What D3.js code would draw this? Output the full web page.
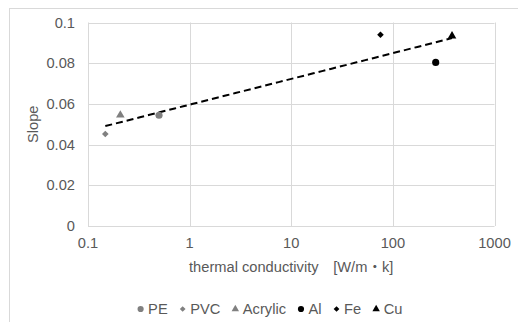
<!DOCTYPE html>
<html>
<head>
<meta charset="utf-8">
<script src="https://cdn.jsdelivr.net/npm/d3@7"></script>
<style>
  html, body { margin: 0; padding: 0; background: #fff; }
  svg text { font-family: "Liberation Sans", Arial, "Noto Sans CJK JP", sans-serif; fill: #595959; }
</style>
</head>
<body>
<svg id="chart" width="518" height="322"></svg>
<script>
// data
const materials = ['PE', 'PVC', 'Acrylic', 'Al', 'Fe', 'Cu'];
const conductivity = [0.5, 0.148, 0.208, 264, 75.5, 382];
const slopes = [0.0544, 0.0452, 0.0545, 0.0804, 0.094, 0.0934];
const markerShapes = ['circle', 'diamond', 'triangle', 'circle', 'diamond', 'triangle'];
const markerColors = ['#808080', '#808080', '#808080', '#000000', '#000000', '#000000'];
const xTicks = [0.1, 1, 10, 100, 1000];
const yTicks = [0, 0.02, 0.04, 0.06, 0.08, 0.1];

const fontSize = '14.67px';
const svg = d3.select('#chart');

// outer chart border (cut off at right and bottom)
svg.append('rect')
  .attr('x', 9.5).attr('y', 8.5)
  .attr('width', 600).attr('height', 400)
  .attr('fill', 'none')
  .attr('stroke', '#d9d9d9')
  .attr('stroke-width', 1);

const x = d3.scaleLog().domain([0.1, 1000]).range([88, 494.5]);
const y = d3.scaleLinear().domain([0, 0.1]).range([226, 22.5]);

// gridlines
svg.append('g')
  .selectAll('line')
  .data(yTicks)
  .enter()
  .append('line')
  .attr('x1', x(0.1)).attr('x2', x(1000))
  .attr('y1', d => Math.round(y(d)) + 0.5).attr('y2', d => Math.round(y(d)) + 0.5)
  .attr('stroke', '#d9d9d9')
  .attr('stroke-width', 1);

svg.append('g')
  .selectAll('line')
  .data(xTicks)
  .enter()
  .append('line')
  .attr('x1', d => Math.round(x(d)) + 0.5).attr('x2', d => Math.round(x(d)) + 0.5)
  .attr('y1', y(0.1)).attr('y2', y(0))
  .attr('stroke', '#d9d9d9')
  .attr('stroke-width', 1);

// tick labels
svg.append('g')
  .selectAll('text')
  .data(yTicks)
  .enter()
  .append('text')
  .attr('x', 75)
  .attr('y', d => y(d))
  .attr('dy', '0.35em')
  .attr('text-anchor', 'end')
  .attr('font-size', fontSize)
  .text(d => d === 0 ? '0' : String(d));

svg.append('g')
  .selectAll('text')
  .data(xTicks)
  .enter()
  .append('text')
  .attr('x', d => x(d))
  .attr('y', 248)
  .attr('text-anchor', 'middle')
  .attr('font-size', fontSize)
  .text(d => String(d));

// axis titles
svg.append('text')
  .attr('x', (x(0.1) + x(1000)) / 2)
  .attr('y', 272)
  .attr('text-anchor', 'middle')
  .attr('font-size', fontSize)
  .text('thermal conductivity\u3000[W/m\u30FBk]');

svg.append('text')
  .attr('transform', `translate(38, ${(y(0) + y(0.1)) / 2}) rotate(-90)`)
  .attr('text-anchor', 'middle')
  .attr('font-size', fontSize)
  .text('Slope');

// logarithmic trendline (least squares on ln x), like the spreadsheet one
const lx = conductivity.map(v => Math.log(v));
const mx = d3.mean(lx), my = d3.mean(slopes);
const a = d3.sum(lx, (v, i) => (v - mx) * (slopes[i] - my)) / d3.sum(lx, v => (v - mx) * (v - mx));
const b = my - a * mx;
const xMin = d3.min(conductivity), xMax = d3.max(conductivity);
const trend = d3.range(0, 41).map(i => Math.exp(Math.log(xMin) + (Math.log(xMax) - Math.log(xMin)) * i / 40));

svg.append('path')
  .datum(trend)
  .attr('d', d3.line().x(d => x(d)).y(d => y(a * Math.log(d) + b)))
  .attr('fill', 'none')
  .attr('stroke', '#000')
  .attr('stroke-width', 2)
  .attr('stroke-dasharray', '7,4');

// markers; diamonds are rotated squares
function markerPath(shape, scale) {
  if (shape === 'circle') return d3.symbol().type(d3.symbolCircle).size(40 * scale)();
  if (shape === 'diamond') return d3.symbol().type(d3.symbolSquare).size(22 * scale)();
  return d3.symbol().type(d3.symbolTriangle).size(32 * scale)();
}

const pts = materials.map((m, i) => ({ name: m, cx: conductivity[i], cy: slopes[i], shape: markerShapes[i], color: markerColors[i] }));

svg.append('g')
  .selectAll('path')
  .data(pts)
  .enter()
  .append('path')
  .attr('transform', d => `translate(${x(d.cx)}, ${y(d.cy)})` + (d.shape === 'diamond' ? ' rotate(45)' : ''))
  .attr('d', d => markerPath(d.shape, 1))
  .attr('fill', d => d.color);

// legend
const legend = svg.append('g');
const items = legend.selectAll('g')
  .data(pts)
  .enter()
  .append('g');
items.append('path')
  .attr('transform', d => d.shape === 'diamond' ? 'rotate(45)' : null)
  .attr('d', d => markerPath(d.shape, 0.75))
  .attr('fill', d => d.color);
items.append('text')
  .attr('x', 7.5)
  .attr('dy', '0.35em')
  .attr('font-size', fontSize)
  .text(d => d.name);

let cursor = 0;
const offsets = [];
items.each(function () {
  const w = this.querySelector('text').getComputedTextLength();
  offsets.push(cursor);
  cursor += 7.5 + w + 15;
});
const total = cursor - 15 + 3;
const start = 270 - total / 2 + 3;
items.attr('transform', (d, i) => `translate(${start + offsets[i]}, 309)`);
</script>
</body>
</html>
